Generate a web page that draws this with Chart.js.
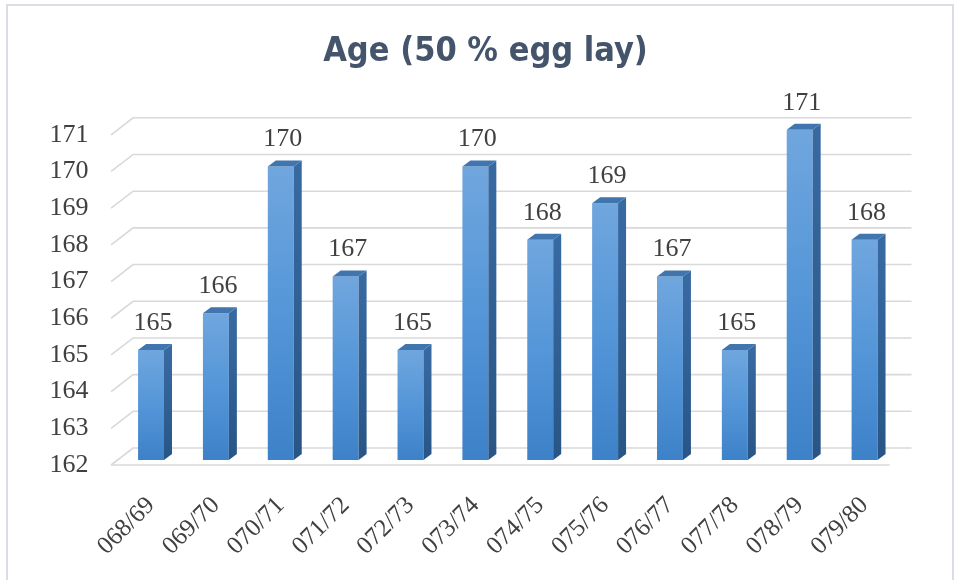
<!DOCTYPE html>
<html>
<head>
<meta charset="utf-8">
<script src="https://cdn.jsdelivr.net/npm/chart.js@4/dist/chart.umd.min.js"></script>
<style>
  html, body { margin: 0; padding: 0; background: #ffffff; }
  #wrap { width: 956px; height: 580px; position: relative; }
</style>
</head>
<body>
<div id="wrap"><canvas id="chart" width="956" height="580"></canvas></div>
<script>
// Age at 50 % egg laying, by fiscal year
const seasons = ['068/69', '069/70', '070/71', '071/72', '072/73', '073/74',
                 '074/75', '075/76', '076/77', '077/78', '078/79', '079/80'];
const ageDays = [165, 166, 170, 167, 165, 170, 168, 169, 167, 165, 171, 168];
const yTicks = [162, 163, 164, 165, 166, 167, 168, 169, 170, 171];

const serif = "'Liberation Serif', 'Times New Roman', serif";
const textGrey = '#404040';

// depth of the pseudo-3D box and of each bar
const FRONT = { dx: -7.5, dy: 5 };
const BACK = { dx: 14.5, dy: -12 };
const BAR_DEPTH = { dx: 8, dy: -6 };

const frame = {
  id: 'frame',
  beforeDraw(chart) {
    const c = chart.ctx;
    c.save();
    c.fillStyle = '#ffffff';
    c.fillRect(0, 0, chart.width, chart.height);
    c.strokeStyle = '#dadde4';
    c.lineWidth = 2;
    c.strokeRect(7, 5, 946, 580);
    c.restore();
  }
};

// back wall grid, side diagonals and floor edge
const box3d = {
  id: 'box3d',
  beforeDatasetsDraw(chart) {
    const c = chart.ctx;
    const y = chart.scales.y;
    const a = chart.chartArea;
    c.save();
    c.strokeStyle = '#d9d9d9';
    c.lineWidth = 1.6;
    yTicks.forEach(v => {
      const py = y.getPixelForValue(v);
      c.beginPath();
      c.moveTo(a.left + FRONT.dx, py + FRONT.dy);
      c.lineTo(a.left + BACK.dx, py + BACK.dy);
      c.lineTo(a.right + BACK.dx, py + BACK.dy);
      c.stroke();
    });
    const base = y.getPixelForValue(yTicks[0]);
    c.beginPath();
    c.moveTo(a.left + FRONT.dx, base + FRONT.dy);
    c.lineTo(a.right + FRONT.dx, base + FRONT.dy);
    c.stroke();
    c.restore();
  }
};

// side and top faces of each bar, plus the value labels
const barFaces = {
  id: 'barFaces',
  afterDatasetsDraw(chart) {
    const c = chart.ctx;
    const meta = chart.getDatasetMeta(0);
    c.save();
    meta.data.forEach((bar, i) => {
      const { x, y, base, width } = bar.getProps(['x', 'y', 'base', 'width'], true);
      const l = x - width / 2, r = x + width / 2;
      const dx = BAR_DEPTH.dx, dy = BAR_DEPTH.dy;
      // side
      const sg = c.createLinearGradient(0, y, 0, base);
      sg.addColorStop(0, '#386aa2');
      sg.addColorStop(1, '#285585');
      c.fillStyle = sg;
      c.beginPath();
      c.moveTo(r, y);
      c.lineTo(r + dx, y + dy);
      c.lineTo(r + dx, base + dy);
      c.lineTo(r, base);
      c.closePath();
      c.fill();
      // top
      c.fillStyle = '#4075ae';
      c.beginPath();
      c.moveTo(l, y);
      c.lineTo(l + dx, y + dy);
      c.lineTo(r + dx, y + dy);
      c.lineTo(r, y);
      c.closePath();
      c.fill();
      // value
      c.fillStyle = textGrey;
      c.font = '26px ' + serif;
      c.textAlign = 'center';
      c.textBaseline = 'middle';
      c.fillText(String(ageDays[i]), x + 2, y - 27);
    });
    c.restore();
  }
};

function frontFill(ctx) {
  const chart = ctx.chart;
  if (!chart.chartArea) return '#5b9bd5';
  const ys = chart.scales.y;
  const top = ys.getPixelForValue(ctx.raw);
  const bottom = ys.getPixelForValue(yTicks[0]);
  const g = chart.ctx.createLinearGradient(0, top, 0, bottom);
  g.addColorStop(0, '#70a6de');
  g.addColorStop(0.5, '#5496d8');
  g.addColorStop(1, '#3d81c8');
  return g;
}

new Chart(document.getElementById('chart'), {
  type: 'bar',
  data: {
    labels: seasons,
    datasets: [{
      data: ageDays,
      base: yTicks[0],
      backgroundColor: frontFill,
      borderWidth: 0,
      barPercentage: 0.4,
      categoryPercentage: 1
    }]
  },
  plugins: [frame, box3d, barFaces],
  options: {
    responsive: false,
    animation: false,
    layout: { padding: { left: 40, right: 25, top: 0, bottom: 0 } },
    plugins: {
      legend: { display: false },
      tooltip: { enabled: false },
      title: {
        display: true,
        text: 'Age (50 % egg lay)',
        color: '#44546a',
        font: { family: "'DejaVu Sans Condensed', 'Liberation Sans', sans-serif", size: 34, weight: 'bold', lineHeight: 1.2 },
        padding: { top: 32, bottom: 57 }
      }
    },
    scales: {
      x: {
        grid: { display: false, drawTicks: false },
        border: { display: false },
        ticks: {
          color: textGrey,
          font: { family: serif, size: 25 },
          minRotation: 45,
          maxRotation: 45,
          padding: 31,
          autoSkip: false
        },
        afterFit(s) { s.height = 120; s.paddingLeft = 0; s.paddingRight = 0; }
      },
      y: {
        min: 162,
        max: 171,
        grid: { display: false, drawTicks: false },
        border: { display: false },
        ticks: {
          stepSize: 1,
          color: textGrey,
          font: { family: serif, size: 26 },
          padding: 30,
          labelOffset: 5
        },
        afterFit(s) { s.width = 78.6; s.paddingTop = 0; s.paddingBottom = 0; }
      },
      // empty right-hand gutter that keeps the plot clear of the frame
      gutter: {
        type: 'linear',
        position: 'right',
        display: true,
        grid: { display: false, drawTicks: false },
        border: { display: false },
        ticks: { display: false },
        afterFit(s) { s.width = 34; }
      }
    }
  }
});
</script>
</body>
</html>
